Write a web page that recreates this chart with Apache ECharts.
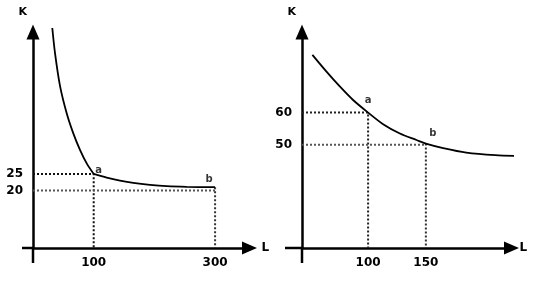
<!DOCTYPE html>
<html>
<head>
<meta charset="utf-8">
<script src="https://cdn.jsdelivr.net/npm/echarts@6/dist/echarts.min.js"></script>
<style>
html,body{margin:0;padding:0;background:#fff;}
#c{width:543px;height:285px;}
</style>
</head>
<body>
<div id="c"></div>
<script>
// ---- Left panel data ----
var leftSteepL = [31.8, 36.2, 44.5, 55.5, 66.4, 77.4, 88.5, 100];
var leftSteepK = [69.2, 61.7, 51.7, 43.4, 37.3, 32.3, 28.2, 25];
var leftFlatL  = [100, 121.4, 143.3, 165.2, 192.8, 220.3, 253.2, 300];
var leftFlatK  = [25, 23.9, 23.0, 22.3, 21.7, 21.3, 21.1, 21.0];
var leftPoints = [[100, 25, 'a'], [300, 21, 'b']];
var leftLevelK = [25, 20];
var leftTicksL = [100, 300];
var leftTicksK = [25, 20];
var leftRangeL = [0, 356.7];
var leftRangeK = [2.58, 68.0];

// ---- Right panel data ----
var rightCurveL = [51.8, 64.0, 75.5, 87.0, 100, 113.0, 127.5, 141.9, 150, 165, 185, 210, 233];
var rightCurveK = [77.9, 72.7, 68.1, 63.9, 60, 56.4, 53.5, 51.5, 50.4, 49.0, 47.6, 46.8, 46.5];
var rightPoints = [[100, 60, 'a'], [150, 50.4, 'b']];
var rightLevelK = [60, 50];
var rightTicksL = [100, 150];
var rightTicksK = [60, 50];
var rightRangeL = [42.8, 224.1];
var rightRangeK = [18.0, 85.0];

function zip(a, b) { return a.map(function (v, i) { return [v, b[i]]; }); }

var FONT = 'DejaVu Sans';
var chart = echarts.init(document.getElementById('c'), null, {renderer: 'canvas'});

function xAxisCfg(gi, range, ticks, nameGap) {
  return {
    type: 'value', gridIndex: gi, min: range[0], max: range[1],
    name: 'L', nameLocation: 'end', nameGap: nameGap,
    nameTextStyle: {fontFamily: FONT, fontSize: 12, fontWeight: 'bold', color: '#000', padding: [6, 0, 0, 0]},
    axisLine: {show: true, onZero: false, symbol: ['none', 'triangle'], symbolSize: [13, 15],
      lineStyle: {color: '#000', width: 2.5}},
    axisTick: {show: false},
    splitLine: {show: false},
    axisLabel: {customValues: ticks, margin: 9, fontFamily: FONT, fontSize: 12, fontWeight: 'bold', color: '#000'}
  };
}
function yAxisCfg(gi, range, ticks) {
  return {
    type: 'value', gridIndex: gi, min: range[0], max: range[1],
    name: 'K', nameLocation: 'end', nameGap: 14,
    nameTextStyle: {fontFamily: FONT, fontSize: 11, fontWeight: 'bold', color: '#000', align: 'right', padding: [0, 6, 0, 0]},
    axisLine: {show: true, onZero: false, symbol: ['none', 'triangle'], symbolSize: [13, 15],
      lineStyle: {color: '#000', width: 2.5}},
    axisTick: {show: false},
    splitLine: {show: false},
    axisLabel: {customValues: ticks, margin: 10, fontFamily: FONT, fontSize: 12, fontWeight: 'bold', color: '#000'}
  };
}
function curve(gi, data) {
  return {type: 'line', xAxisIndex: gi, yAxisIndex: gi, data: data, smooth: 0.3,
    showSymbol: false, symbol: 'none', clip: false, silent: true,
    lineStyle: {color: '#000', width: 1.8}, z: 5};
}
function guide(gi, data, color) {
  return {type: 'line', xAxisIndex: gi, yAxisIndex: gi, data: data, symbol: 'none',
    silent: true, clip: false, lineStyle: {color: color, width: 2, type: [2, 2]}, z: 3};
}
function pointLabels(gi, pts, offsets) {
  return {type: 'scatter', xAxisIndex: gi, yAxisIndex: gi, symbolSize: 0, silent: true,
    data: pts.map(function (p, i) {
      return {value: [p[0], p[1]], name: p[2],
        label: {show: true, position: 'inside', offset: offsets[i], formatter: p[2],
          fontFamily: FONT, fontSize: 10, fontWeight: 'bold', color: '#000'}};
    }), z: 6};
}

var lk0 = leftRangeK[0], rk0 = rightRangeK[0], rl0 = rightRangeL[0];

var option = {
  animation: false,
  backgroundColor: '#fff',
  grid: [
    {left: 33, top: 32, width: 216.5, height: 216, containLabel: false},
    {left: 302, top: 32, width: 209.5, height: 216, containLabel: false}
  ],
  xAxis: [xAxisCfg(0, leftRangeL, leftTicksL, 12), xAxisCfg(1, rightRangeL, rightTicksL, 8)],
  yAxis: [yAxisCfg(0, leftRangeK, leftTicksK), yAxisCfg(1, rightRangeK, rightTicksK)],
  series: [
    curve(0, zip(leftSteepL, leftSteepK)),
    curve(0, zip(leftFlatL, leftFlatK)),
    guide(0, [[leftRangeL[0], leftLevelK[0]], [leftPoints[0][0], leftLevelK[0]], [leftPoints[0][0], lk0]], '#111'),
    guide(0, [[leftRangeL[0], leftLevelK[1]], [leftPoints[1][0], leftLevelK[1]]], '#555'),
    guide(0, [[leftPoints[1][0], leftPoints[1][1]], [leftPoints[1][0], lk0]], '#333'),
    pointLabels(0, leftPoints, [[5, -4], [-6, -8]]),
    curve(1, zip(rightCurveL, rightCurveK)),
    guide(1, [[rl0, rightLevelK[0]], [rightPoints[0][0], rightLevelK[0]], [rightPoints[0][0], rk0]], '#222'),
    guide(1, [[rl0, rightLevelK[1]], [rightPoints[1][0], rightLevelK[1]]], '#555'),
    guide(1, [[rightPoints[1][0], rightPoints[1][1]], [rightPoints[1][0], rk0]], '#333'),
    pointLabels(1, rightPoints, [[0, -12], [7, -10]])
  ]
};
chart.setOption(option);

// axis stubs extending past the origin (hand-drawn cross)
function stubs(gi, origin, downLen, leftLen) {
  var p = chart.convertToPixel({gridIndex: gi}, origin);
  return [
    {type: 'line', shape: {x1: p[0], y1: p[1], x2: p[0], y2: p[1] + downLen}, style: {stroke: '#000', lineWidth: 2.5}},
    {type: 'line', shape: {x1: p[0], y1: p[1], x2: p[0] - leftLen, y2: p[1]}, style: {stroke: '#000', lineWidth: 2.5}}
  ];
}
chart.setOption({graphic: stubs(0, [leftRangeL[0], lk0], 15, 11).concat(stubs(1, [rl0, rk0], 15, 17))});
</script>
</body>
</html>
